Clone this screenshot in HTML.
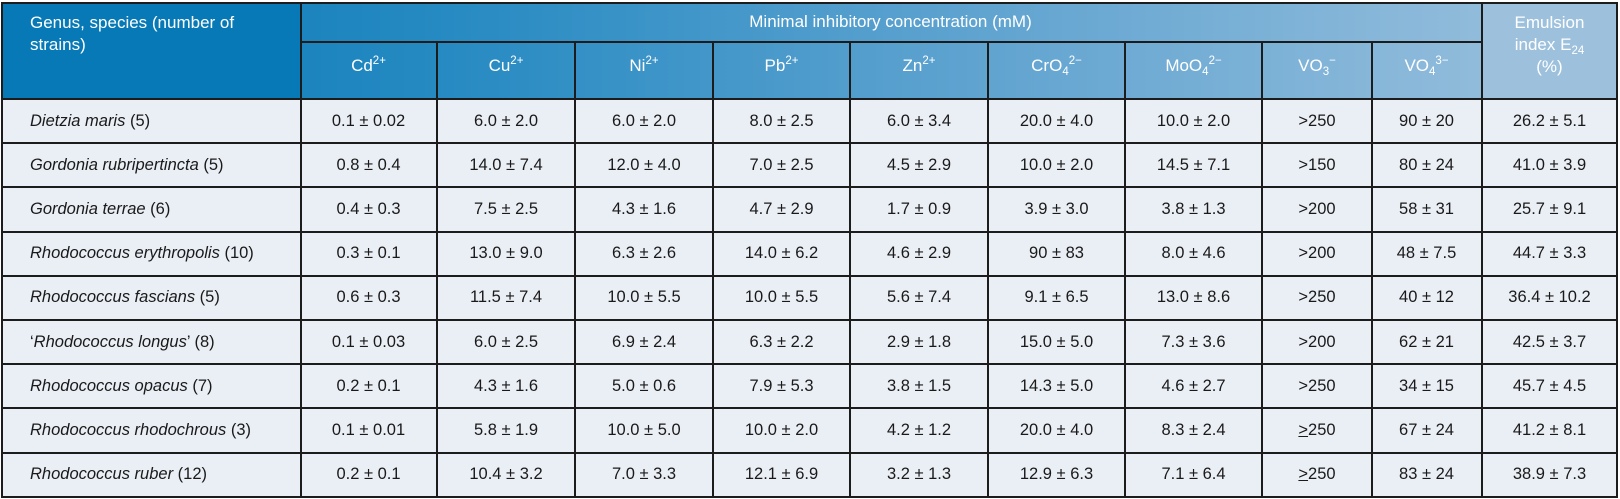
<!DOCTYPE html>
<html><head><meta charset="utf-8">
<style>
html,body{margin:0;padding:0;background:#fff;}
body{width:1620px;height:499px;position:relative;overflow:hidden;font-family:"Liberation Sans",sans-serif;}
#wrap{position:absolute;left:1px;top:2px;width:1617px;height:495px;}
#hdr{position:absolute;left:0;top:0;width:1617px;height:97px;background:linear-gradient(90deg,#0577b5 0%,#2a8cc3 30%,#5fa3d0 60%,#9ec2de 100%);}
.c{position:absolute;box-sizing:border-box;display:flex;align-items:center;justify-content:center;font-size:16.5px;color:#1a1a1a;}
.c > span{display:block;white-space:nowrap;}
.h{color:#fff;font-size:17px;}
.line{position:absolute;background:#1c1c1c;}
i{font-style:italic;}
sup{font-size:11.5px;vertical-align:7px;line-height:0;}
sub{font-size:11.5px;vertical-align:-4px;line-height:0;}
</style></head>
<body>
<div id="wrap">
<div id="hdr"></div>
<div style="position:absolute;left:0;top:0;width:299px;height:97px;background:#0679b6;"></div>
<div style="position:absolute;left:1480px;top:0;width:137px;height:97px;background:#9dc1dd;"></div>
<div style="position:absolute;left:0;top:97px;width:1617px;height:398px;background:#eaeef5;"></div>
<div class="h" style="position:absolute;left:29px;top:10px;width:230px;line-height:22px;font-size:17px;">Genus, species (number of strains)</div>
<div class="c h" style="left:299px;top:0;width:1181px;height:39px;"><span>Minimal inhibitory concentration (mM)</span></div>
<div class="h" style="position:absolute;left:1480px;top:10px;width:137px;text-align:center;line-height:22px;font-size:17px;">Emulsion<br>index E<sub>24</sub><br>(%)</div>
<div id="cells"></div>
<div id="lines"></div>
</div>
<script>
const colX=[0,299,436,574,712,849,987,1124,1261,1371,1480,1617];
const ions=['Cd<sup>2+</sup>','Cu<sup>2+</sup>','Ni<sup>2+</sup>','Pb<sup>2+</sup>','Zn<sup>2+</sup>','CrO<sub>4</sub><sup>2−</sup>','MoO<sub>4</sub><sup>2−</sup>','VO<sub>3</sub><sup>−</sup>','VO<sub>4</sub><sup>3−</sup>'];
const species=['<i>Dietzia maris</i> (5)','<i>Gordonia rubripertincta</i> (5)','<i>Gordonia terrae</i> (6)','<i>Rhodococcus erythropolis</i> (10)','<i>Rhodococcus fascians</i> (5)','‘<i>Rhodococcus longus</i>’ (8)','<i>Rhodococcus opacus</i> (7)','<i>Rhodococcus rhodochrous</i> (3)','<i>Rhodococcus ruber</i> (12)'];
const values=[
['0.1 ± 0.02','6.0 ± 2.0','6.0 ± 2.0','8.0 ± 2.5','6.0 ± 3.4','20.0 ± 4.0','10.0 ± 2.0','&gt;250','90 ± 20','26.2 ± 5.1'],
['0.8 ± 0.4','14.0 ± 7.4','12.0 ± 4.0','7.0 ± 2.5','4.5 ± 2.9','10.0 ± 2.0','14.5 ± 7.1','&gt;150','80 ± 24','41.0 ± 3.9'],
['0.4 ± 0.3','7.5 ± 2.5','4.3 ± 1.6','4.7 ± 2.9','1.7 ± 0.9','3.9 ± 3.0','3.8 ± 1.3','&gt;200','58 ± 31','25.7 ± 9.1'],
['0.3 ± 0.1','13.0 ± 9.0','6.3 ± 2.6','14.0 ± 6.2','4.6 ± 2.9','90 ± 83','8.0 ± 4.6','&gt;200','48 ± 7.5','44.7 ± 3.3'],
['0.6 ± 0.3','11.5 ± 7.4','10.0 ± 5.5','10.0 ± 5.5','5.6 ± 7.4','9.1 ± 6.5','13.0 ± 8.6','&gt;250','40 ± 12','36.4 ± 10.2'],
['0.1 ± 0.03','6.0 ± 2.5','6.9 ± 2.4','6.3 ± 2.2','2.9 ± 1.8','15.0 ± 5.0','7.3 ± 3.6','&gt;200','62 ± 21','42.5 ± 3.7'],
['0.2 ± 0.1','4.3 ± 1.6','5.0 ± 0.6','7.9 ± 5.3','3.8 ± 1.5','14.3 ± 5.0','4.6 ± 2.7','&gt;250','34 ± 15','45.7 ± 4.5'],
['0.1 ± 0.01','5.8 ± 1.9','10.0 ± 5.0','10.0 ± 2.0','4.2 ± 1.2','20.0 ± 4.0','8.3 ± 2.4','<u>&gt;</u>250','67 ± 24','41.2 ± 8.1'],
['0.2 ± 0.1','10.4 ± 3.2','7.0 ± 3.3','12.1 ± 6.9','3.2 ± 1.3','12.9 ± 6.3','7.1 ± 6.4','<u>&gt;</u>250','83 ± 24','38.9 ± 7.3']];
const cells=document.getElementById('cells'), lines=document.getElementById('lines');
const top0=97, rowH=44.2;
function mk(cls,html,x,y,w,h){const d=document.createElement('div');d.className=cls;d.innerHTML='<span>'+html+'</span>';d.style.left=x+'px';d.style.top=y+'px';d.style.width=w+'px';d.style.height=h+'px';cells.appendChild(d);return d;}
ions.forEach((t,i)=>{const d=mk('c h',t,colX[i+1],39,colX[i+2]-colX[i+1],50);

});
species.forEach((s,r)=>{const y=top0+r*rowH;
const d=mk('c',s,29,y,270,rowH);d.style.justifyContent='flex-start';


values[r].forEach((v,j)=>{const e=mk('c',v,colX[j+1],y,colX[j+2]-colX[j+1],rowH);

});});
function ln(x,y,w,h){const d=document.createElement('div');d.className='line';d.style.left=x+'px';d.style.top=y+'px';d.style.width=w+'px';d.style.height=h+'px';lines.appendChild(d);

}
ln(0,0,1617,2);ln(299,39,1181,2);
for(let r=0;r<=9;r++)ln(0,Math.round(top0+r*rowH)-1,1617,2);
ln(0,0,2,495);ln(1615,0,2,495);ln(299,0,2,495);ln(1480,0,2,495);
for(let i=2;i<colX.length-2;i++)ln(colX[i]-1,39,2,456);
</script>
</body></html>
